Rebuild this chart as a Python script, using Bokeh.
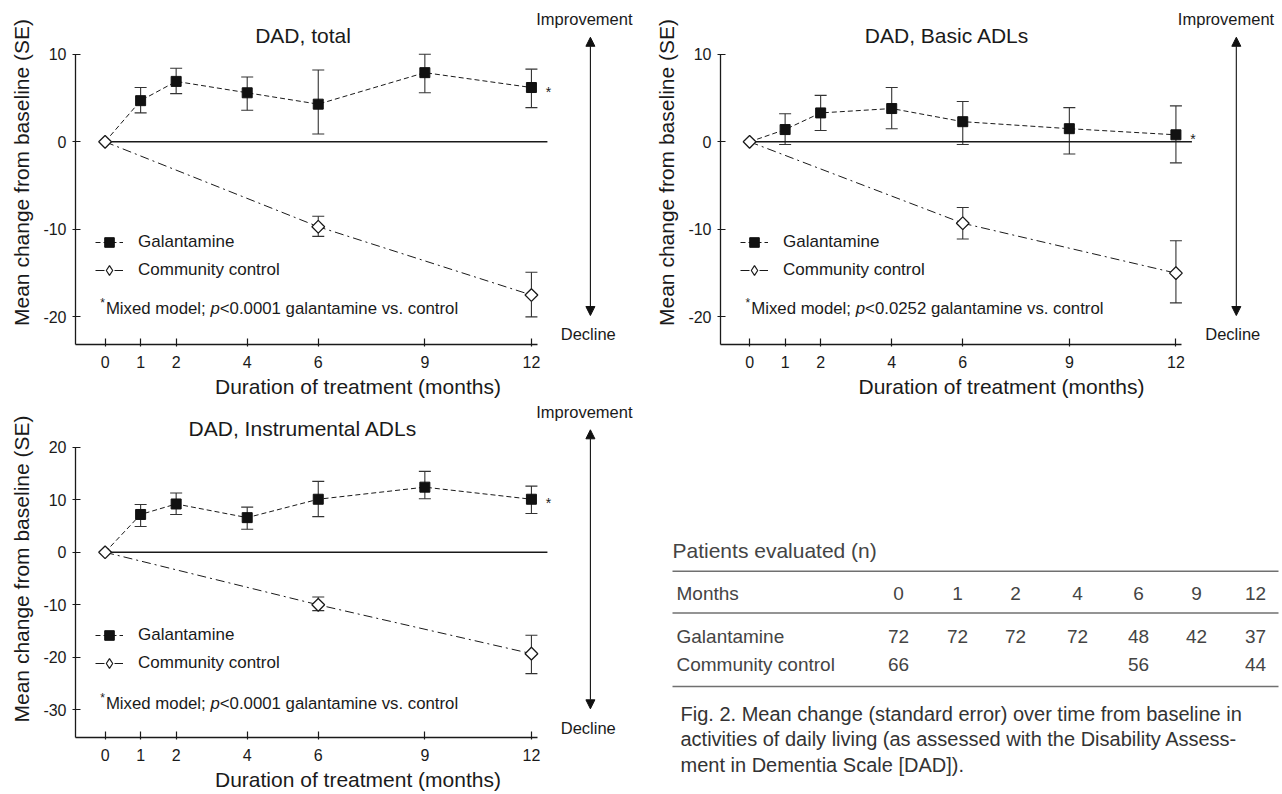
import math
from bokeh.plotting import figure
from bokeh.models import (Range1d, Whisker, TeeHead, ColumnDataSource, Legend, LegendItem,
                          Arrow, NormalHead, Label, FixedTicker)
from bokeh.layouts import row, column
from bokeh.embed import file_html
from bokeh.resources import INLINE
from bokeh.core.properties import value

FONT = "Liberation Sans"

# ---------------- data ----------------
months = [0, 1, 2, 4, 6, 9, 12]
control_months = [0, 6, 12]

# DAD, total
total_gal = [0, 4.7, 6.9, 5.6, 4.3, 7.9, 6.2]
total_gal_hi = [0, 6.2, 8.4, 7.4, 8.2, 10.0, 8.3]
total_gal_lo = [0, 3.3, 5.5, 3.6, 0.9, 5.6, 3.9]
total_ctl = [0, -9.7, -17.5]
total_ctl_hi = [0, -8.5, -14.9]
total_ctl_lo = [0, -10.8, -20.0]

# DAD, Basic ADLs
basic_gal = [0, 1.4, 3.3, 3.8, 2.3, 1.5, 0.8]
basic_gal_hi = [0, 3.2, 5.3, 6.2, 4.6, 3.9, 4.1]
basic_gal_lo = [0, -0.3, 1.3, 1.5, -0.3, -1.4, -2.4]
basic_ctl = [0, -9.3, -15.0]
basic_ctl_hi = [0, -7.5, -11.3]
basic_ctl_lo = [0, -11.1, -18.4]

# DAD, Instrumental ADLs
instr_gal = [0, 7.2, 9.2, 6.6, 10.1, 12.4, 10.1]
instr_gal_hi = [0, 9.1, 11.3, 8.6, 13.5, 15.4, 12.6]
instr_gal_lo = [0, 4.9, 7.2, 4.4, 6.8, 10.2, 7.4]
instr_ctl = [0, -10.0, -19.3]
instr_ctl_hi = [0, -8.5, -15.8]
instr_ctl_lo = [0, -11.1, -23.1]

yticks_small = [-20, -10, 0, 10]
yticks_large = [-30, -20, -10, 0, 10, 20]

# patients evaluated table
n_galantamine = [72, 72, 72, 72, 48, 42, 37]
n_control = [66, 56, 44]
row_labels = ["Months", "Galantamine", "Community control"]

caption_lines = [
    "Fig. 2. Mean change (standard error) over time from baseline in",
    "activities of daily living (as assessed with the Disability Assess-",
    "ment in Dementia Scale [DAD]).",
]

# Arial-like advance widths (em) for offsetting footnote pieces
CW = {' ': .278, ';': .278, 'M': .833, 'i': .222, 'x': .5, 'e': .556, 'd': .556,
      'm': .833, 'o': .556, 'l': .222, 'p': .556, '*': .389}


def tw(s, size):
    return sum(CW.get(c, .556) for c in s) * size


def build_panel(cfg, title, gal, gal_hi, gal_lo, ctl, ctl_hi, ctl_lo, yticks, pval):
    p = figure(width=cfg["w"], height=cfg["h"],
               x_range=Range1d(*cfg["xr"]), y_range=Range1d(*cfg["yr"]),
               output_backend="svg", toolbar_location=None, frame_align=False,
               min_border_left=cfg["bl"], min_border_right=0, min_border_top=0,
               min_border_bottom=cfg["bb"])
    p.outline_line_color = None
    p.xgrid.grid_line_color = None
    p.ygrid.grid_line_color = None

    xa = p.xaxis[0]
    xa.ticker = FixedTicker(ticks=months)
    xa.bounds = (cfg["xr"][0], cfg["xend"])
    xa.axis_label = "Duration of treatment (months)"
    xa.axis_label_standoff = 4
    xa.major_label_standoff = 9
    xa.major_tick_in = 6
    xa.major_tick_out = 2
    xa.minor_tick_line_color = None

    ya = p.yaxis[0]
    ya.ticker = FixedTicker(ticks=yticks)
    ya.major_label_overrides = {t: str(t) for t in yticks}
    ya.bounds = (cfg["yr"][0], max(yticks))
    ya.axis_label = "Mean change from baseline (SE)"
    ya.axis_label_standoff = 7
    ya.major_label_standoff = 6
    ya.major_tick_in = 5
    ya.major_tick_out = 3
    ya.minor_tick_line_color = None

    for ax in (xa, ya):
        ax.axis_line_color = "#1a1a1a"
        ax.axis_line_width = 1.3
        ax.major_tick_line_color = "#1a1a1a"
        ax.major_tick_line_width = 1.2
        ax.major_label_text_font = FONT
        ax.major_label_text_font_size = "16px"
        ax.major_label_text_color = "#1a1a1a"
        ax.axis_label_text_font = FONT
        ax.axis_label_text_font_size = "21px"
        ax.axis_label_text_font_style = "normal"
        ax.axis_label_text_color = "#1a1a1a"

    # zero reference line
    p.segment(x0=[0], y0=[0], x1=[cfg["zend"]], y1=[0], line_color="#1a1a1a", line_width=1.5)

    # error bars (baseline point has no SE)
    gsrc = ColumnDataSource(dict(
        x=[m for m, h, l in zip(months, gal_hi, gal_lo) if h != l],
        hi=[h for h, l in zip(gal_hi, gal_lo) if h != l],
        lo=[l for h, l in zip(gal_hi, gal_lo) if h != l]))
    csrc = ColumnDataSource(dict(
        x=[m for m, h, l in zip(control_months, ctl_hi, ctl_lo) if h != l],
        hi=[h for h, l in zip(ctl_hi, ctl_lo) if h != l],
        lo=[l for h, l in zip(ctl_hi, ctl_lo) if h != l]))
    for src in (gsrc, csrc):
        p.add_layout(Whisker(base="x", upper="hi", lower="lo", source=src,
                             line_color="#333333", line_width=1.1,
                             upper_head=TeeHead(size=12, line_color="#333333", line_width=1.1),
                             lower_head=TeeHead(size=12, line_color="#333333", line_width=1.1)))

    gl = p.line(months, gal, line_color="#1a1a1a", line_width=1, line_dash="5 3")
    gm = p.scatter(months[1:], gal[1:], marker="square", size=10,
                   fill_color="#111111", line_color="#111111")
    cl = p.line(control_months, ctl, line_color="#1a1a1a", line_width=1, line_dash="9 4 2 4")
    p.scatter(control_months, ctl, marker="square", angle=math.pi / 4, size=9,
              fill_color="white", line_color="#1a1a1a", line_width=1.3)
    # diamond symbol used for the legend entry only (hidden in the plot area)
    cm_leg = p.scatter(control_months, ctl, marker="diamond", size=13, visible=False,
                       fill_color="white", line_color="#1a1a1a", line_width=1.2)

    legend = Legend(items=[LegendItem(label="Galantamine", renderers=[gl, gm]),
                           LegendItem(label="Community control", renderers=[cl, cm_leg])],
                    location=(20, 62), orientation="vertical",
                    glyph_width=28, glyph_height=24, label_height=20, spacing=4,
                    padding=0, margin=0, label_standoff=15,
                    border_line_color=None, background_fill_alpha=0,
                    inactive_fill_alpha=0,
                    label_text_font=FONT, label_text_font_size="17px",
                    label_text_color="#1a1a1a")
    p.add_layout(legend)

    def lab(x, y, text, size, align="center", style="normal", xo=0, yo=0, color="#1a1a1a"):
        p.add_layout(Label(x=x, y=y, text=text, x_offset=xo, y_offset=yo,
                           text_font=FONT, text_font_size=f"{size}px",
                           text_font_style=style, text_color=color,
                           text_align=align, text_baseline="middle"))

    lab(cfg["title_x"], cfg["title_y"], title, 21)
    lab(months[-1], gal[-1], "*", 14, xo=17, yo=-4)

    fx, fy = cfg["foot_x"], cfg["foot_y"]
    fs = 16.8
    lab(fx, fy, "*", 12, align="left", yo=6)
    off = 5.7
    lab(fx, fy, "Mixed model; ", fs, align="left", xo=off)
    off += tw("Mixed model; ", fs)
    lab(fx, fy, "p", fs, align="left", style="italic", xo=off)
    off += tw("p", fs)
    lab(fx, fy, pval + " galantamine vs. control", fs, align="left", xo=off)

    head = dict(size=9, fill_color="#111111", line_color="#111111", line_width=1)
    p.add_layout(Arrow(x_start=cfg["arrow_x"], y_start=cfg["arrow_y"][1],
                       x_end=cfg["arrow_x"], y_end=cfg["arrow_y"][0],
                       start=NormalHead(**head), end=NormalHead(**head),
                       line_color="#111111", line_width=1.1))
    lab(cfg["imp_x"], cfg["imp_y"], "Improvement", 16.5)
    lab(cfg["dec_x"], cfg["dec_y"], "Decline", 16.5)
    return p


cfg1 = dict(w=640, h=400, bl=75, bb=56, xr=(-0.833, 15.07), yr=(-23.15, 16.14),
            xend=12.16, zend=12.45, title_x=5.57, title_y=12.14,
            foot_x=-0.138, foot_y=-19.04,
            arrow_x=13.66, arrow_y=(11.94, -19.84), imp_x=13.49, imp_y=14.0,
            dec_x=13.6, dec_y=-21.96)
cfg2 = dict(w=642, h=400, bl=80, bb=56, xr=(-0.819, 15.0), yr=(-23.15, 16.14),
            xend=12.17, zend=12.45, title_x=5.56, title_y=12.14,
            foot_x=-0.115, foot_y=-19.04,
            arrow_x=13.7, arrow_y=(11.94, -19.84), imp_x=13.41, imp_y=14.0,
            dec_x=13.6, dec_y=-21.96)
cfg3 = dict(w=640, h=394, bl=75, bb=57, xr=(-0.833, 15.07), yr=(-35.26, 28.9),
            xend=12.16, zend=12.45, title_x=5.57, title_y=23.51,
            foot_x=-0.138, foot_y=-28.85,
            arrow_x=13.66, arrow_y=(23.32, -29.8), imp_x=13.49, imp_y=26.68,
            dec_x=13.6, dec_y=-33.42)

p1 = build_panel(cfg1, "DAD, total", total_gal, total_gal_hi, total_gal_lo,
                 total_ctl, total_ctl_hi, total_ctl_lo, yticks_small, "<0.0001")
p2 = build_panel(cfg2, "DAD, Basic ADLs", basic_gal, basic_gal_hi, basic_gal_lo,
                 basic_ctl, basic_ctl_hi, basic_ctl_lo, yticks_small, "<0.0252")
p3 = build_panel(cfg3, "DAD, Instrumental ADLs", instr_gal, instr_gal_hi, instr_gal_lo,
                 instr_ctl, instr_ctl_hi, instr_ctl_lo, yticks_large, "<0.0001")

# ---------------- table + caption (page-pixel coordinates) ----------------
pt = figure(width=642, height=394, x_range=Range1d(640, 1282), y_range=Range1d(794, 400),
            output_backend="svg", toolbar_location=None, frame_align=False,
            min_border_left=0, min_border_right=0, min_border_top=0, min_border_bottom=0,
            x_axis_location=None, y_axis_location=None)
pt.outline_line_color = None
pt.xgrid.grid_line_color = None
pt.ygrid.grid_line_color = None

col_x = [898, 957, 1015, 1077, 1138, 1196, 1255]
tcol = "#444444"
tfont = value(FONT)

pt.text(x=[672], y=[550], text=["Patients evaluated (n)"], text_font=tfont,
        text_font_size="21px", text_color=tcol, text_align="left", text_baseline="middle")
pt.segment(x0=[672] * 3, x1=[1278] * 3, y0=[570.7, 612.5, 686], y1=[570.7, 612.5, 686],
           line_color="#707070", line_width=1.6)
pt.text(x=[676] * 3, y=[593, 636, 664], text=row_labels, text_font=tfont,
        text_font_size="19px", text_color=tcol, text_align="left", text_baseline="middle")
pt.text(x=col_x, y=[593] * len(months), text=[str(m) for m in months], text_font=tfont,
        text_font_size="19px", text_color=tcol, text_align="center", text_baseline="middle")
pt.text(x=col_x, y=[636] * len(n_galantamine), text=[str(n) for n in n_galantamine],
        text_font=tfont, text_font_size="19px", text_color=tcol, text_align="center",
        text_baseline="middle")
pt.text(x=[col_x[months.index(m)] for m in control_months], y=[664] * len(n_control),
        text=[str(n) for n in n_control], text_font=tfont, text_font_size="19px",
        text_color=tcol, text_align="center", text_baseline="middle")
pt.text(x=[680] * 3, y=[713, 738, 764], text=caption_lines, text_font=tfont,
        text_font_size="20px", text_color="#333333", text_align="left",
        text_baseline="middle")

layout = row(column(p1, p3), column(p2, pt))
open("out.html", "w").write(file_html(layout, INLINE))
